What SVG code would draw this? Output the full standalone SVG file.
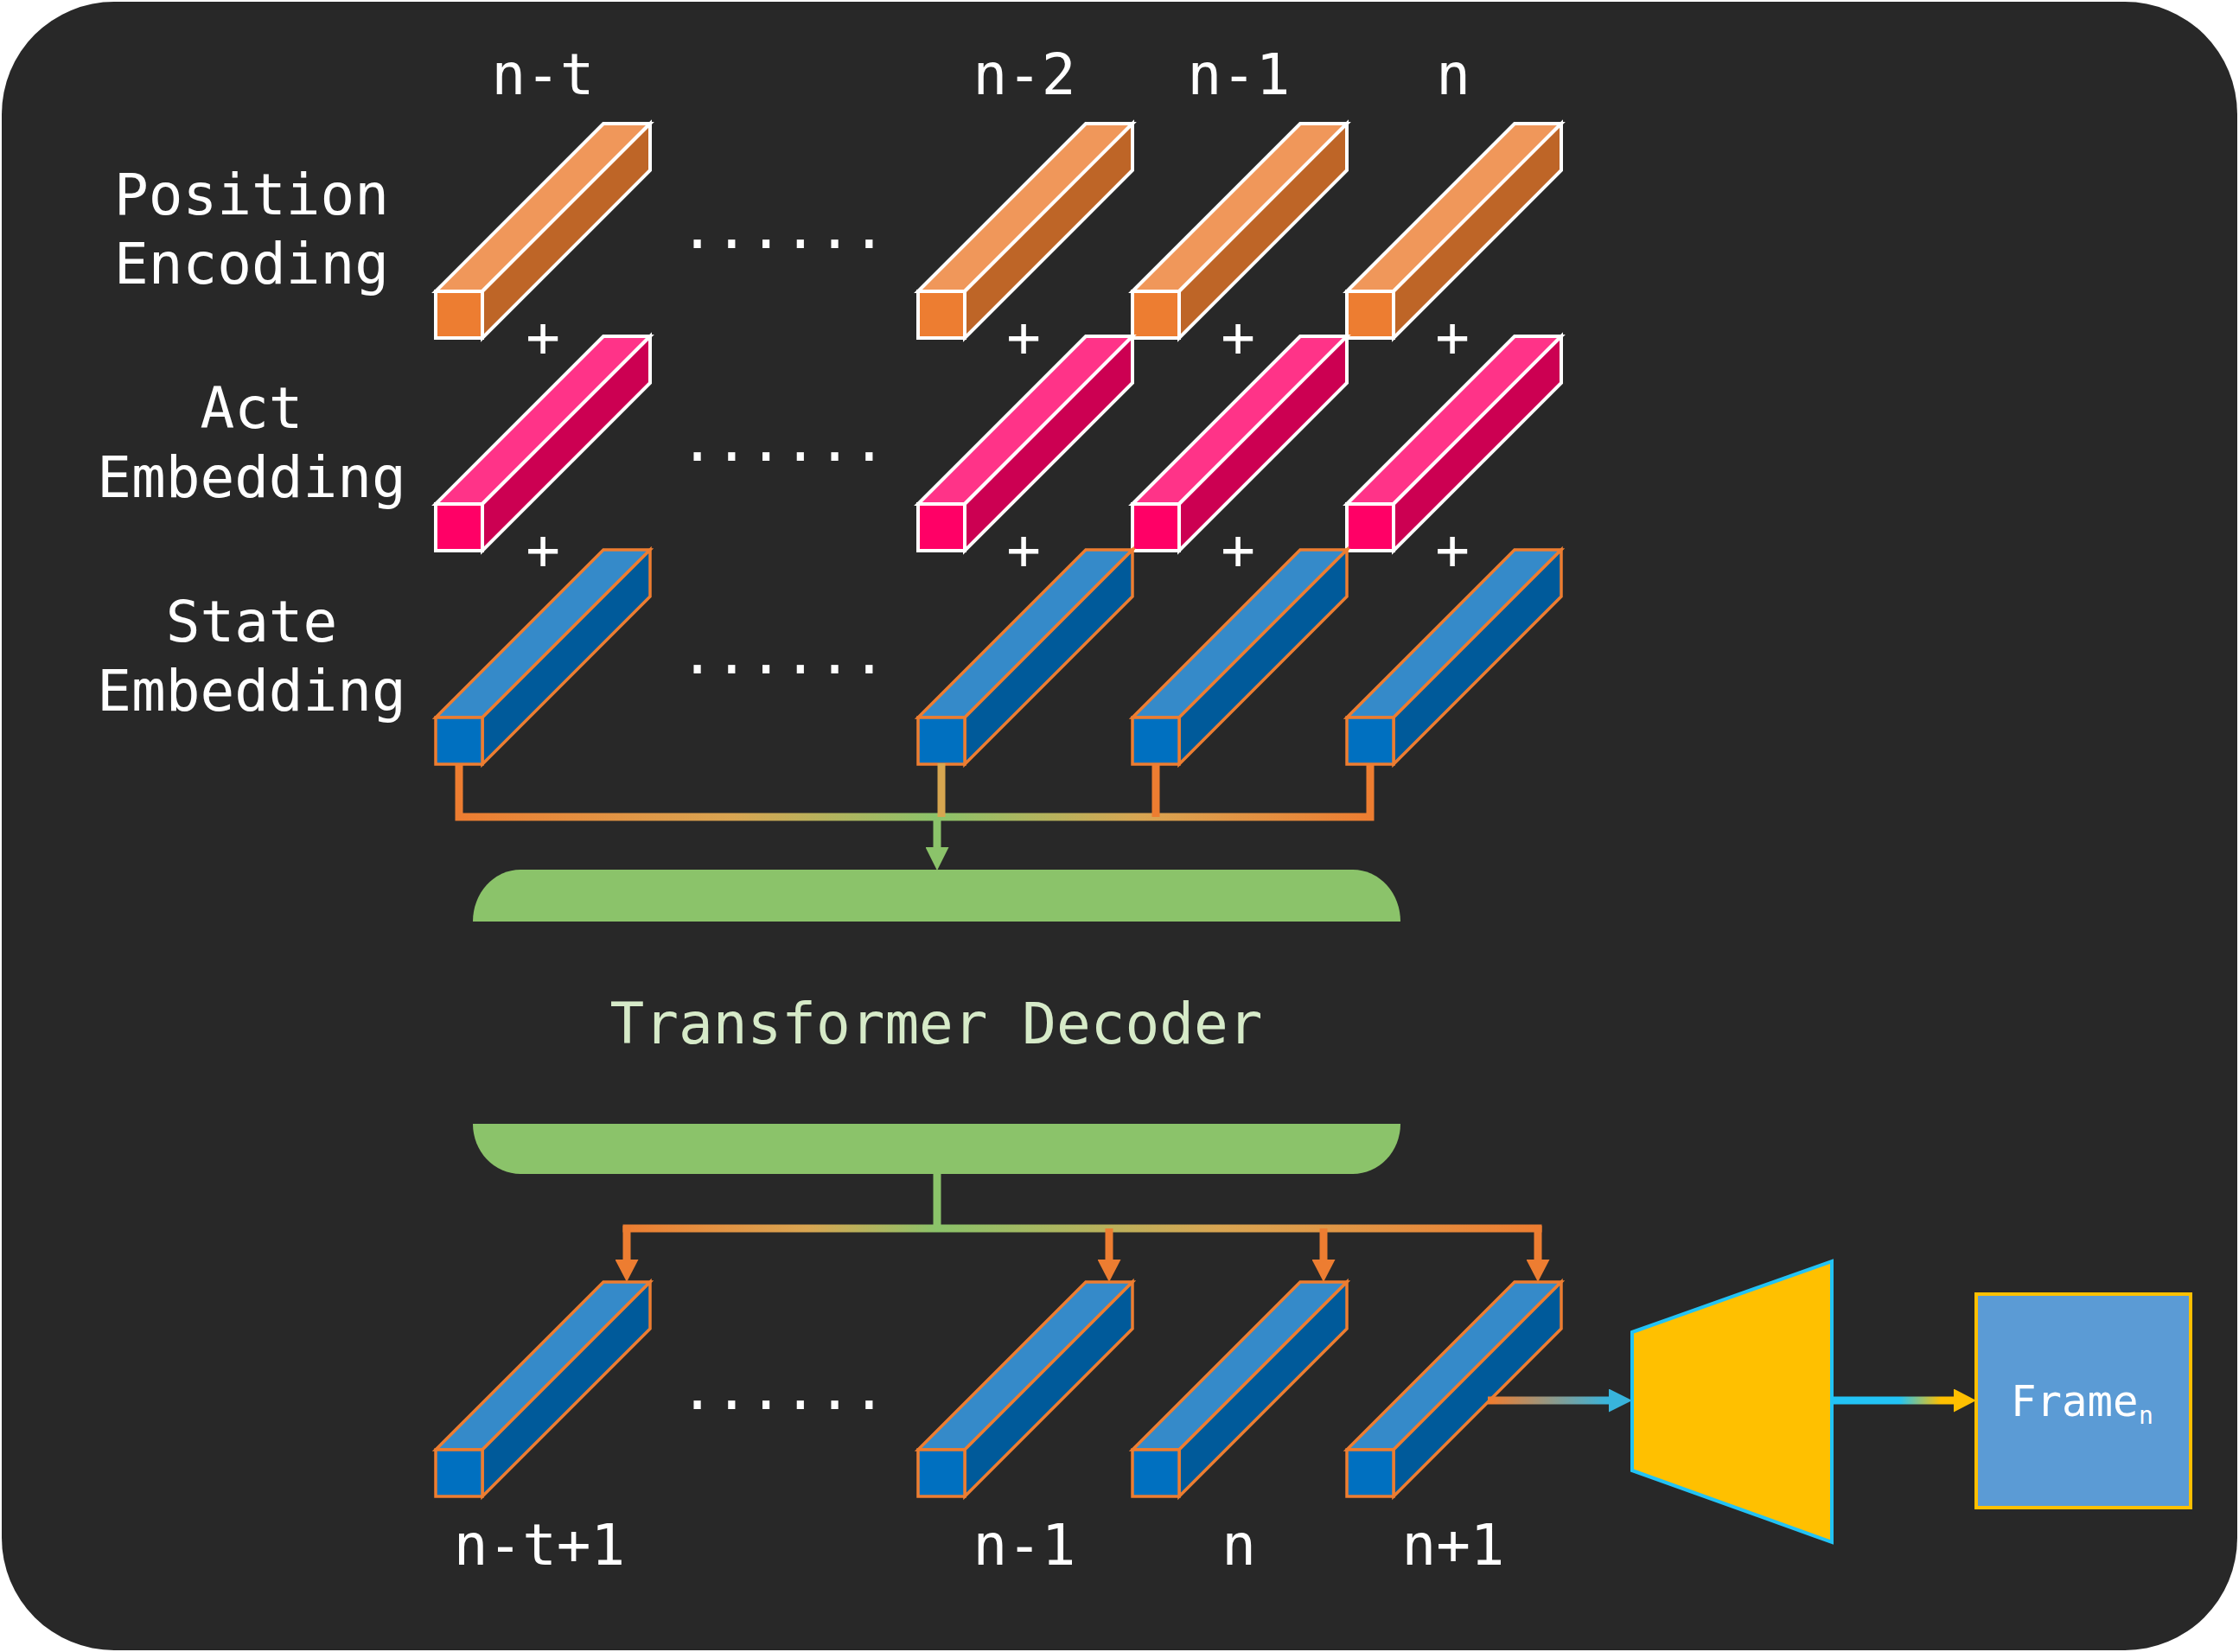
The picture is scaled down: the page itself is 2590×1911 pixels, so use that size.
<svg xmlns="http://www.w3.org/2000/svg" xmlns:xlink="http://www.w3.org/1999/xlink" width="2590" height="1911" viewBox="0 0 2590 1911">
<style>
.t{font-family:"DejaVu Sans Mono","Liberation Mono",monospace;font-size:66px;fill:#ffffff}
.m{text-anchor:middle}
.dt{fill:#D6EAC8}
.wb{stroke:#ffffff;stroke-width:4;stroke-linejoin:miter}
.ob{stroke:#ED7D31;stroke-width:3.5;stroke-linejoin:miter}
.dec{fill:#8BC36A}
.ln{fill:none;stroke-width:9;stroke-linejoin:miter}
.or{stroke:#ED7D31}
.gr{stroke:#8BC36A}
.ft{font-family:"DejaVu Sans Mono","Liberation Mono",monospace;fill:#ffffff}
</style>
<defs>
<g id="peBlock" class="wb">
<polygon points="0,0 194,-194 248,-194 54,0" fill="#F0975A"/>
<polygon points="54,0 248,-194 248,-140 54,54" fill="#BE6527"/>
<rect x="0" y="0" width="54" height="54" fill="#ED7D31"/>
</g>
<g id="actBlock" class="wb">
<polygon points="0,0 194,-194 248,-194 54,0" fill="#FF3388"/>
<polygon points="54,0 248,-194 248,-140 54,54" fill="#CC0052"/>
<rect x="0" y="0" width="54" height="54" fill="#FF0066"/>
</g>
<g id="stBlock" class="ob">
<polygon points="0,0 194,-194 248,-194 54,0" fill="#358AC9"/>
<polygon points="54,0 248,-194 248,-140 54,54" fill="#005A9A"/>
<rect x="0" y="0" width="54" height="54" fill="#0070C0"/>
</g>
<marker id="arrOr" viewBox="0 0 26 27" refX="0" refY="13.5" markerWidth="26" markerHeight="27" markerUnits="userSpaceOnUse" orient="auto"><path d="M0,0 L26,13.5 L0,27 Z" fill="#ED7D31"/></marker>
<marker id="arrGr" viewBox="0 0 27 27" refX="0" refY="13.5" markerWidth="27" markerHeight="27" markerUnits="userSpaceOnUse" orient="auto"><path d="M0,0 L27,13.5 L0,27 Z" fill="#8BC36A"/></marker>
<marker id="arrCy" viewBox="0 0 27 27" refX="0" refY="13.5" markerWidth="27" markerHeight="27" markerUnits="userSpaceOnUse" orient="auto"><path d="M0,0 L27,13.5 L0,27 Z" fill="#38B4DC"/></marker>
<marker id="arrYe" viewBox="0 0 26 27" refX="0" refY="13.5" markerWidth="26" markerHeight="27" markerUnits="userSpaceOnUse" orient="auto"><path d="M0,0 L26,13.5 L0,27 Z" fill="#FFC000"/></marker>
<linearGradient id="gTop" gradientUnits="userSpaceOnUse" x1="531" y1="0" x2="1585" y2="0">
<stop offset="0" stop-color="#ED7D31"/><stop offset="0.3" stop-color="#D9A552"/><stop offset="0.525" stop-color="#8BC36A"/><stop offset="0.75" stop-color="#D9A552"/><stop offset="1" stop-color="#ED7D31"/>
</linearGradient>
<linearGradient id="gBot" gradientUnits="userSpaceOnUse" x1="721" y1="0" x2="1783" y2="0">
<stop offset="0" stop-color="#ED7D31"/><stop offset="0.2" stop-color="#D9A552"/><stop offset="0.342" stop-color="#8BC36A"/><stop offset="0.65" stop-color="#D9A552"/><stop offset="1" stop-color="#ED7D31"/>
</linearGradient>
<linearGradient id="gIn" gradientUnits="userSpaceOnUse" x1="1725" y1="0" x2="1860" y2="0">
<stop offset="0" stop-color="#ED7D31"/><stop offset="1" stop-color="#38B4DC"/>
</linearGradient>
<linearGradient id="gOut" gradientUnits="userSpaceOnUse" x1="2121" y1="0" x2="2259" y2="0">
<stop offset="0" stop-color="#22C3F5"/><stop offset="0.55" stop-color="#22C3F5"/><stop offset="0.9" stop-color="#FFC000"/><stop offset="1" stop-color="#FFC000"/>
</linearGradient>
</defs>

<rect x="0" y="0" width="2590" height="1911" fill="#ffffff"/>
<rect id="background" x="2" y="2" width="2586" height="1907" rx="130" ry="130" fill="#282828"/>

<g id="row-labels" class="t m">
<text x="291" y="248">Position</text>
<text x="291" y="328">Encoding</text>
<text x="291" y="495">Act</text>
<text x="291" y="575">Embedding</text>
<text x="291" y="742">State</text>
<text x="291" y="822">Embedding</text>
</g>

<g id="top-index-labels" class="t m">
<text x="628" y="109">n-t</text>
<text x="1185" y="109">n-2</text>
<text x="1433" y="109">n-1</text>
<text x="1681" y="109">n</text>
</g>

<g id="plus-signs" class="t m">
<text x="628" y="413">+</text>
<text x="1184" y="413">+</text>
<text x="1432" y="413">+</text>
<text x="1680" y="413">+</text>
<text x="628" y="659">+</text>
<text x="1184" y="659">+</text>
<text x="1432" y="659">+</text>
<text x="1680" y="659">+</text>
</g>

<g id="ellipses" class="t m">
<text x="906" y="287">......</text>
<text x="906" y="533">......</text>
<text x="906" y="779">......</text>
<text x="906" y="1630">......</text>
</g>

<g id="pos-enc">
<g id="pe-n-t"><use xlink:href="#peBlock" href="#peBlock" x="504" y="337"/></g>
<g id="pe-n-2"><use xlink:href="#peBlock" href="#peBlock" x="1062" y="337"/></g>
<g id="pe-n-1"><use xlink:href="#peBlock" href="#peBlock" x="1310" y="337"/></g>
<g id="pe-n"><use xlink:href="#peBlock" href="#peBlock" x="1558" y="337"/></g>
</g>
<g id="act-emb">
<g id="act-n-t"><use xlink:href="#actBlock" href="#actBlock" x="504" y="583"/></g>
<g id="act-n-2"><use xlink:href="#actBlock" href="#actBlock" x="1062" y="583"/></g>
<g id="act-n-1"><use xlink:href="#actBlock" href="#actBlock" x="1310" y="583"/></g>
<g id="act-n"><use xlink:href="#actBlock" href="#actBlock" x="1558" y="583"/></g>
</g>
<g id="state-emb">
<g id="st-n-t"><use xlink:href="#stBlock" href="#stBlock" x="504" y="830"/></g>
<g id="st-n-2"><use xlink:href="#stBlock" href="#stBlock" x="1062" y="830"/></g>
<g id="st-n-1"><use xlink:href="#stBlock" href="#stBlock" x="1310" y="830"/></g>
<g id="st-n"><use xlink:href="#stBlock" href="#stBlock" x="1558" y="830"/></g>
</g>

<g id="decoder">
<path class="dec" d="M547,1066 A55,60 0 0 1 602,1006 H1565 A55,60 0 0 1 1620,1066 Z"/>
<path class="dec" d="M547,1300 H1620 A55,58 0 0 1 1565,1358 H602 A55,58 0 0 1 547,1300 Z"/>
<text class="t m dt" x="1083" y="1207">Transformer Decoder</text>
</g>

<g id="outputs">
<g id="out-n-t+1"><use xlink:href="#stBlock" href="#stBlock" x="504" y="1677"/></g>
<g id="out-n-1"><use xlink:href="#stBlock" href="#stBlock" x="1062" y="1677"/></g>
<g id="out-n"><use xlink:href="#stBlock" href="#stBlock" x="1310" y="1677"/></g>
<g id="out-n+1"><use xlink:href="#stBlock" href="#stBlock" x="1558" y="1677"/></g>
</g>

<g id="bottom-index-labels" class="t m">
<text x="624" y="1810">n-t+1</text>
<text x="1185" y="1810">n-1</text>
<text x="1433" y="1810">n</text>
<text x="1681" y="1810">n+1</text>
</g>

<g id="renderer">
<polygon points="1888,1541 2119,1459 2119,1784 1888,1701" fill="#FFC000" stroke="#22C3F5" stroke-width="4"/>
</g>

<g id="frame">
<rect x="2286" y="1497" width="248" height="247" fill="#5B9BD5" stroke="#FFC000" stroke-width="4"/>
<text class="ft" x="2326" y="1638" font-size="49">Frame</text>
<text class="ft" x="2474" y="1647" font-size="28">n</text>
</g>

<g id="connectors">
<path class="ln" stroke="url(#gTop)" d="M531,883 V945 H1585 V883"/>
<path class="ln" stroke="#D6A650" d="M1089,883 V945"/>
<path class="ln or" d="M1337,883 V945"/>
<path class="ln gr" d="M1084,945 V980" marker-end="url(#arrGr)"/>
<path class="ln gr" d="M1084,1358 V1421"/>
<path class="ln" stroke="url(#gBot)" d="M720.5,1421 H1783.5"/>
<path class="ln or" d="M725,1418 V1457" marker-end="url(#arrOr)"/>
<path class="ln or" d="M1283,1421 V1457" marker-end="url(#arrOr)"/>
<path class="ln or" d="M1531,1421 V1457" marker-end="url(#arrOr)"/>
<path class="ln or" d="M1779,1418 V1457" marker-end="url(#arrOr)"/>
<path class="ln" stroke="url(#gIn)" stroke-width="8" d="M1721,1620 H1861" marker-end="url(#arrCy)"/>
<path class="ln" stroke="url(#gOut)" d="M2121,1620 H2260" marker-end="url(#arrYe)"/>
</g>
</svg>
